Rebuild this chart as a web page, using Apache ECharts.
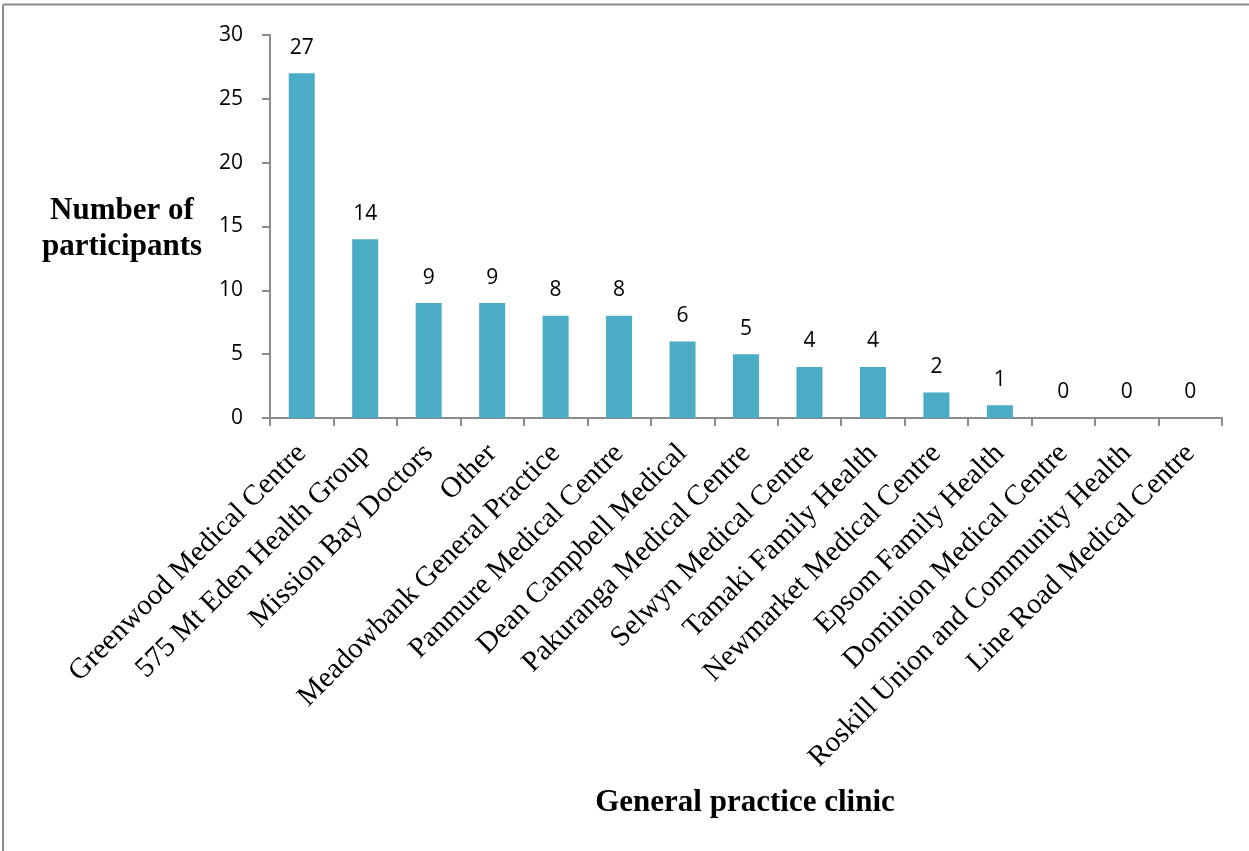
<!DOCTYPE html>
<html>
<head>
<meta charset="utf-8">
<script src="https://cdn.jsdelivr.net/npm/echarts@6/dist/echarts.min.js"></script>
<style>
  html, body { margin: 0; padding: 0; background: #fff; }
  #chart { width: 1249px; height: 851px; }
</style>
</head>
<body>
<div id="chart"></div>
<script>
// 诊所名称
var clinics = [
    'Greenwood Medical Centre',
    '575 Mt Eden Health Group',
    'Mission Bay Doctors',
    'Other',
    'Meadowbank General Practice',
    'Panmure Medical Centre',
    'Dean Campbell Medical',
    'Pakuranga Medical Centre',
    'Selwyn Medical Centre',
    'Tamaki Family Health',
    'Newmarket Medical Centre',
    'Epsom Family Health',
    'Dominion Medical Centre',
    'Roskill Union and Community Health',
    'Line Road Medical Centre'
];
// 参与人数
var participants = [27, 14, 9, 9, 8, 8, 6, 5, 4, 4, 2, 1, 0, 0, 0];

var myChart = echarts.init(document.getElementById('chart'));

var option = {
    animation: false,
    grid: {
        left: 270,
        top: 35,
        right: 27,
        bottom: 433,
        containLabel: false
    },
    graphic: [
        // 外框
        { type: 'line', shape: { x1: 3, y1: 4.5, x2: 1249, y2: 4.5 }, style: { stroke: '#8c8c8c', lineWidth: 2 } },
        { type: 'line', shape: { x1: 3, y1: 4.5, x2: 3, y2: 851 }, style: { stroke: '#8c8c8c', lineWidth: 2 } },
        {
            type: 'text', x: 122, y: 229,
            style: {
                text: 'Number of\nparticipants', align: 'center', verticalAlign: 'middle',
                font: 'bold 31px "Liberation Serif", serif', fill: '#000', lineHeight: 36
            }
        },
        {
            type: 'text', x: 745, y: 803,
            style: {
                text: 'General practice clinic', align: 'center', verticalAlign: 'middle',
                font: 'bold 31px "Liberation Serif", serif', fill: '#000'
            }
        }
    ],
    xAxis: {
        type: 'category',
        data: clinics,
        axisLine: { lineStyle: { color: '#8c8c8c', width: 2 } },
        axisTick: { show: true, length: 8, lineStyle: { color: '#8c8c8c', width: 2 } },
        axisLabel: {
            interval: 0,
            rotate: 45,
            margin: 31,
            color: '#000',
            fontFamily: '"Liberation Serif", serif',
            fontSize: 29
        }
    },
    yAxis: {
        type: 'value',
        min: 0,
        max: 30,
        interval: 5,
        splitLine: { show: false },
        axisLine: { show: true, lineStyle: { color: '#8c8c8c', width: 2 } },
        axisTick: { show: true, length: 8, lineStyle: { color: '#8c8c8c', width: 2 } },
        axisLabel: {
            margin: 27,
            color: '#000',
            fontFamily: '"Open Sans", "DejaVu Sans", sans-serif',
            fontSize: 21
        }
    },
    series: [
        {
            type: 'bar',
            data: participants,
            barWidth: '41%',
            itemStyle: { color: '#4BACC6' },
            label: {
                show: true,
                position: 'top',
                distance: 15,
                color: '#000',
                fontFamily: '"Open Sans", "DejaVu Sans", sans-serif',
                fontSize: 21
            }
        }
    ]
};
myChart.setOption(option);
</script>
</body>
</html>
